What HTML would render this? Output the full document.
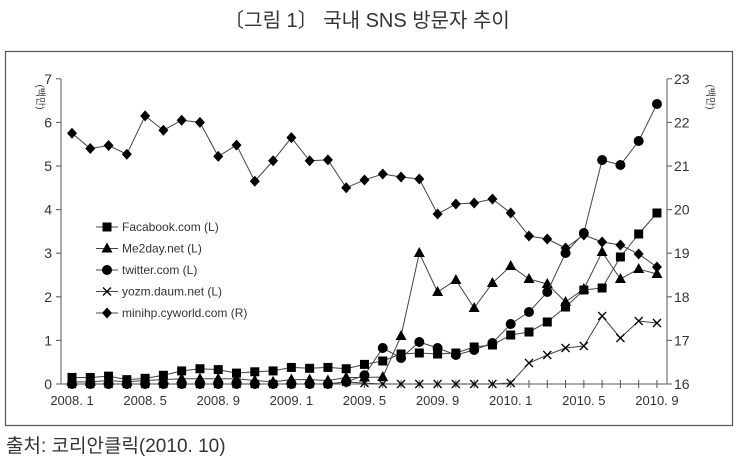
<!DOCTYPE html>
<html><head><meta charset="utf-8"><style>
body{margin:0;background:#fff;width:740px;height:465px;overflow:hidden}
svg{display:block}
text{font-family:"Liberation Sans","Noto Sans CJK KR",sans-serif;fill:#333}
</style></head><body>
<svg id="s" width="740" height="465" xmlns="http://www.w3.org/2000/svg">
<text x="367" y="27" font-size="20" text-anchor="middle" font-family="'Noto Sans CJK KR',sans-serif">〔그림 1〕 국내 SNS 방문자 추이</text>
<rect x="5.5" y="51.5" width="727" height="374" fill="none" stroke="#555" stroke-width="1.2"/>
<text x="6" y="452" font-size="19" font-family="'Noto Serif CJK SC','Noto Sans CJK KR',serif">출처: 코리안클릭(2010. 10)</text>
<g id="g"></g>
</svg>
<script>
const g=document.getElementById('g');let h='';
const X=i=>72+i*18.28, YL=v=>384-43.6*v;
h+='<line x1="61" y1="79" x2="61" y2="384" stroke="#555"/><line x1="667" y1="79" x2="667" y2="384" stroke="#555"/><line x1="61" y1="384" x2="667" y2="384" stroke="#555"/>';
for(let v=0;v<=7;v++){let y=YL(v);h+=`<line x1="56" y1="${y}" x2="61" y2="${y}" stroke="#555"/><text x="52" y="${y+5}" font-size="14" text-anchor="end">${v}</text>`;
 h+=`<line x1="667" y1="${y}" x2="672" y2="${y}" stroke="#555"/><text x="674" y="${y+5}" font-size="14">${16+v}</text>`;}
for(let i=0;i<33;i++){h+=`<line x1="${X(i)}" y1="380" x2="${X(i)}" y2="388" stroke="#555"/>`;
 if(i%4==0){let yr=2008+Math.floor(i/12),m=i%12+1;h+=`<text x="${X(i)}" y="405" font-size="13" text-anchor="middle">${yr}. ${m}</text>`}}
h+='<text transform="translate(37,97) rotate(90)" font-size="10" text-anchor="middle" font-family="\'Noto Sans CJK KR\',sans-serif">(백만)</text>';
h+='<text transform="translate(707,97) rotate(90)" font-size="10" text-anchor="middle" font-family="\'Noto Sans CJK KR\',sans-serif">(백만)</text>';
const L=a=>a.map(YL);
const cy=L([5.75,5.4,5.47,5.27,6.15,5.82,6.05,6.0,5.22,5.48,4.65,5.12,5.65,5.12,5.14,4.5,4.68]).concat([174,177,179,214,204,203,199,213,236,239,248,235,242,245,254,267]);
const fb=L([.15,.15,.18,.1,.13,.2,.3,.35,.33,.25,.28,.3,.38,.36,.38,.35,.45]).concat([361,354,353,354,353,347,345,335,332,322,307,290,288,257,234,213]);
const me=L([.05,.05,.08,.05,.08,.1,.12,.12,.12,.12,.08,.05,.1,.1,.08,.15,.15]).concat([377,336,253,292,280,308,283,266,279,284,302,289,252,279,269,274]);
const tw=L([0,0,0,0,0,0,0,0,0,0,0,0,0,0,0,.05,.2]).concat([348,358,342,348,355,350,343,324,312,292,253,233,160,165,141,104]);
const yz=L([0,0,0,0,0,0,0,0,0,0,0,0,0,0,0,.05,.02,0,0,0,0,0,0,0]).concat([383,363,355,348,346,316,338,321,323]);
const M={
sq:(x,y)=>`<rect x="${x-4.5}" y="${y-4.5}" width="9" height="9" fill="#000"/>`,
tr:(x,y)=>`<polygon points="${x},${y-6} ${x-5.5},${y+4} ${x+5.5},${y+4}" fill="#000"/>`,
ci:(x,y)=>`<circle cx="${x}" cy="${y}" r="5" fill="#000"/>`,
x:(x,y)=>`<path d="M${x-4} ${y-4}L${x+4} ${y+4}M${x-4} ${y+4}L${x+4} ${y-4}" stroke="#000" stroke-width="1.3"/>`,
di:(x,y)=>`<polygon points="${x},${y-5.5} ${x+5},${y} ${x},${y+5.5} ${x-5},${y}" fill="#000"/>`};
function ser(d,m){h+=`<polyline fill="none" stroke="#444" stroke-width="1" points="${d.map((y,i)=>X(i)+','+y).join(' ')}"/>`;d.forEach((y,i)=>h+=M[m](X(i),y));}
ser(yz,'x');ser(me,'tr');ser(tw,'ci');ser(fb,'sq');ser(cy,'di');
const lg=[['sq','Facabook.com (L)'],['tr','Me2day.net (L)'],['ci','twitter.com (L)'],['x','yozm.daum.net (L)'],['di','minihp.cyworld.com (R)']];
lg.forEach((l,k)=>{let y=227+k*21.5;h+=`<line x1="96" y1="${y}" x2="118" y2="${y}" stroke="#444"/>`+M[l[0]](107,y)+`<text x="122" y="${y+4}" font-size="12">${l[1]}</text>`});
g.innerHTML=h;
</script>
</body></html>
